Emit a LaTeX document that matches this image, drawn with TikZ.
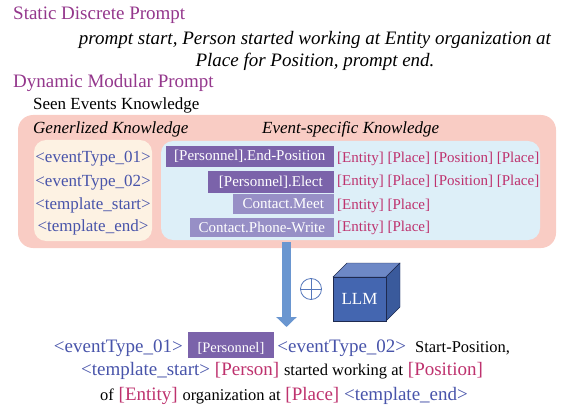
\documentclass[tikz,border=0pt]{standalone}
\usepackage{fontspec}
\setmainfont{Liberation Serif}
\usetikzlibrary{arrows.meta}

\definecolor{headpurple}{HTML}{94378C}
\definecolor{tokblue}{HTML}{4854AA}
\definecolor{argred}{HTML}{BE326E}
\definecolor{bardark}{HTML}{7B63AA}
\definecolor{barlight}{HTML}{978FC6}
\definecolor{seenbg}{HTML}{F9CCC4}
\definecolor{genbg}{HTML}{FDF2E3}
\definecolor{specbg}{HTML}{DDEFF8}
\definecolor{flowblue}{HTML}{6A96D0}
\definecolor{plusblue}{HTML}{5577BB}
\definecolor{cubefront}{HTML}{4466B0}
\definecolor{cubetop}{HTML}{6D88C6}
\definecolor{cubeside}{HTML}{3A5A9C}
\definecolor{cubeline}{HTML}{1E2A50}

\newcommand\fsz[1]{\fontsize{#1}{#1}\selectfont}
\newcommand\tok[1]{\textcolor{tokblue}{#1}}
\newcommand\slot[1]{\textcolor{argred}{#1}}

\tikzset{
  head/.style={anchor=base west, text=headpurple, font=\fsz{19}, inner sep=0},
  token/.style={anchor=base, text=tokblue, font=\fsz{17}, inner sep=0},
  evbar/.style={anchor=east, fill=bardark, text=white, font=\fsz{15}, inner sep=0},
  slots/.style={anchor=base west, text=argred, font=\fsz{15}, inner sep=0},
  outline/.style={anchor=base, font=\fsz{19}, inner sep=0},
}

\begin{document}
\begin{tikzpicture}[x=1pt,y=-1pt]
  \useasboundingbox (0,0) rectangle (564,406);

  % the two prompt styles
  \node[head] (static) at (13,20) {Static Discrete Prompt};
  \node[anchor=base, font=\fsz{19}\itshape, inner sep=0] (prompt1) at (315,45)
    {prompt start, Person started working at Entity organization at};
  \node[anchor=base, font=\fsz{19}\itshape, inner sep=0] (prompt2) at (315,67)
    {Place for Position, prompt end.};
  \node[head] (dynamic) at (13,88) {Dynamic Modular Prompt};
  \node[anchor=base west, font=\fsz{17}, inner sep=0] (seen) at (33,110) {Seen Events Knowledge};

  % knowledge boxes
  \node[fill=seenbg, rounded corners=15, minimum width=538, minimum height=133, inner sep=0] (seenbox) at (287,181.5) {};
  \node[fill=genbg, rounded corners=12, minimum width=118, minimum height=101, inner sep=0] (genbox) at (93,190.5) {};
  \node[fill=specbg, rounded corners=12, minimum width=379, minimum height=99, inner sep=0] (specbox) at (350.5,190.5) {};
  \node[anchor=base west, font=\fsz{17}\itshape, inner sep=0] (genhead) at (33,134) {Generlized Knowledge};
  \node[anchor=base west, font=\fsz{17}\itshape, inner sep=0] (spechead) at (262,134) {Event-specific Knowledge};

  % generalized tokens
  \node[token] (type1) at (93,162) {<eventType\_01>};
  \node[token] (type2) at (93,186) {<eventType\_02>};
  \node[token] (tstart) at (93,209) {<template\_start>};
  \node[token] (tend) at (93,231) {<template\_end>};

  % event types and their argument slots
  \node[evbar, minimum width=168, minimum height=21] (ev1) at (334,156.5) {[Personnel].End-Position};
  \node[evbar, minimum width=126, minimum height=22] (ev2) at (334,182) {[Personnel].Elect};
  \node[evbar, fill=barlight, minimum width=101, minimum height=20] (ev3) at (334,204) {Contact.Meet};
  \node[evbar, fill=barlight, minimum width=144, minimum height=19] (ev4) at (334,227.5) {Contact.Phone-Write};
  \node[slots] (args1) at (337,162) {[Entity] [Place] [Position] [Place]};
  \node[slots] (args2) at (337,185) {[Entity] [Place] [Position] [Place]};
  \node[slots] (args3) at (337,209) {[Entity] [Place]};
  \node[slots] (args4) at (337,231) {[Entity] [Place]};

  % flow into the model
  \coordinate (tip) at (286.5,327);
  \draw[flowblue, line width=9pt, -{Triangle[width=20pt,length=10pt]}] ([xshift=-0.5,yshift=6]seenbox.south) -- (tip);
  \node[circle, draw=plusblue, thick, minimum size=21, inner sep=0] (plus) at (311,289) {};
  \draw[plusblue, thick] (plus.north) -- (plus.south) (plus.west) -- (plus.east);

  % the LLM cube
  \filldraw[fill=cubetop, draw=cubeline] (333,277) -- ++(14,-14) -- ++(53,0) -- ++(-14,14) -- cycle;
  \filldraw[fill=cubeside, draw=cubeline] (386,277) -- ++(14,-14) -- ++(0,44) -- ++(-14,14) -- cycle;
  \node[draw=cubeline, fill=cubefront, text=white, font=\fsz{17}, minimum width=53, minimum height=44, inner sep=0] (llm) at (359.5,299) {LLM};

  % generated output
  \setlength\fboxsep{0pt}
  \node[outline] (out1) at (282,352)
    {\tok{<eventType\_01>} \colorbox{bardark}{\hspace{10pt}\textcolor{white}{\fsz{14.5}[Personnel]}\hspace{10pt}\rule[-6pt]{0pt}{26pt}}\hspace{3pt}\tok{<eventType\_02>}\hspace{9pt}{\fsz{16.5}Start-Position,}};
  \node[outline] (out2) at (282,375)
    {\tok{<template\_start>} \slot{[Person]} {\fsz{16.5}started working at} \slot{[Position]}};
  \node[outline] (out3) at (284,400)
    {{\fsz{16.5}of} \slot{[Entity]} {\fsz{16.5}organization at} \slot{[Place]} \tok{<template\_end>}};
\end{tikzpicture}
\end{document}
